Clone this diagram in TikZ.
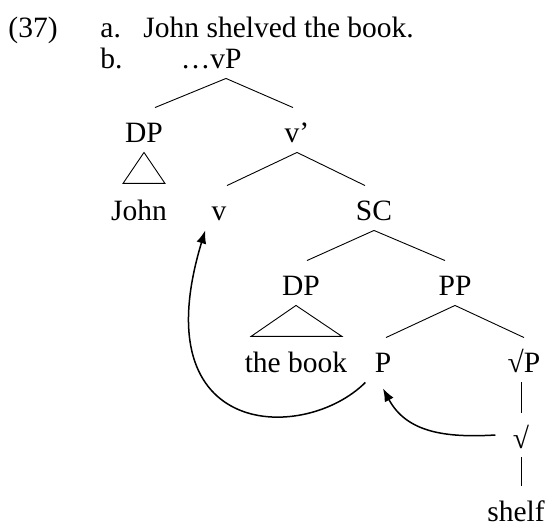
\documentclass[tikz,border=0pt]{standalone}
\usepackage{fontspec}
\setmainfont{Liberation Serif}
\usetikzlibrary{arrows.meta}
\begin{document}
\begin{tikzpicture}[x=1pt,y=-1pt,line width=0.9pt,
  font=\fontsize{29.5}{34}\selectfont,
  txt/.style={anchor=base west,inner sep=0pt},
  cat/.style={anchor=base,inner sep=0pt,text height=35pt,text depth=9pt},
  move/.style={line width=1.5pt,-{Latex[length=13pt,width=10pt]}}]
  \useasboundingbox (0,0) rectangle (549,529);
  \node[txt] (N37) at (8,38) {(37)};
  \node[txt] (La) at (100,38) {a.};
  \node[txt] (S) at (143,38) {John shelved the book.};
  \node[txt] (Lb) at (100,69) {b.};

  \node[cat] (vP) at (226,69) {\llap{…}vP};
  \node[cat] (DP1) at (144,143) {DP};
  \node[cat] (v1) at (297,143) {v’};
  \node[cat] (John) at (139,221) {John};
  \node[cat] (v) at (219,221) {v};
  \node[cat] (SC) at (374,221) {SC};
  \node[cat] (DP2) at (301,296) {DP};
  \node[cat] (PP) at (455,296) {PP};
  \node[cat] (book) at (296,373) {the book};
  \node[cat] (P) at (383,373) {P};
  \node[cat] (rP) at (524,373) {√P};
  \node[cat] (r) at (521,448) {√};
  \node[cat,text depth=2pt] (shelf) at (516,521) {shelf};

  \draw (vP.south) -- ([xshift=11pt]DP1.north);
  \draw (vP.south) -- ([xshift=-4pt]v1.north);
  \draw (DP1.south) -- ++(-21,31) -- ++(42,0) -- cycle;
  \draw (v1.south) -- ([xshift=8pt]v.north);
  \draw (v1.south) -- ([xshift=-9pt]SC.north);
  \draw (SC.south) -- ([xshift=6pt]DP2.north);
  \draw (SC.south) -- ([xshift=-10pt]PP.north);
  \draw ([xshift=-5pt]DP2.south) -- ++(-45,31) -- ++(91,0) -- cycle;
  \draw (PP.south) -- ([xshift=3pt]P.north);
  \draw (PP.south) -- (rP.north);
  \draw (r.north |- rP.south) -- (r.north);
  \draw (r.south) -- (r.south |- shelf.north);

  \draw[move] ([xshift=-9pt]P.south west) .. controls +(-60,60) and +(-64,211) .. ([xshift=-6pt]v.south west);
  \draw[move] ([xshift=-17pt]r.west) .. controls +(-50,3) and +(23.5,44) .. ([yshift=-6pt]P.south);
\end{tikzpicture}
\end{document}
